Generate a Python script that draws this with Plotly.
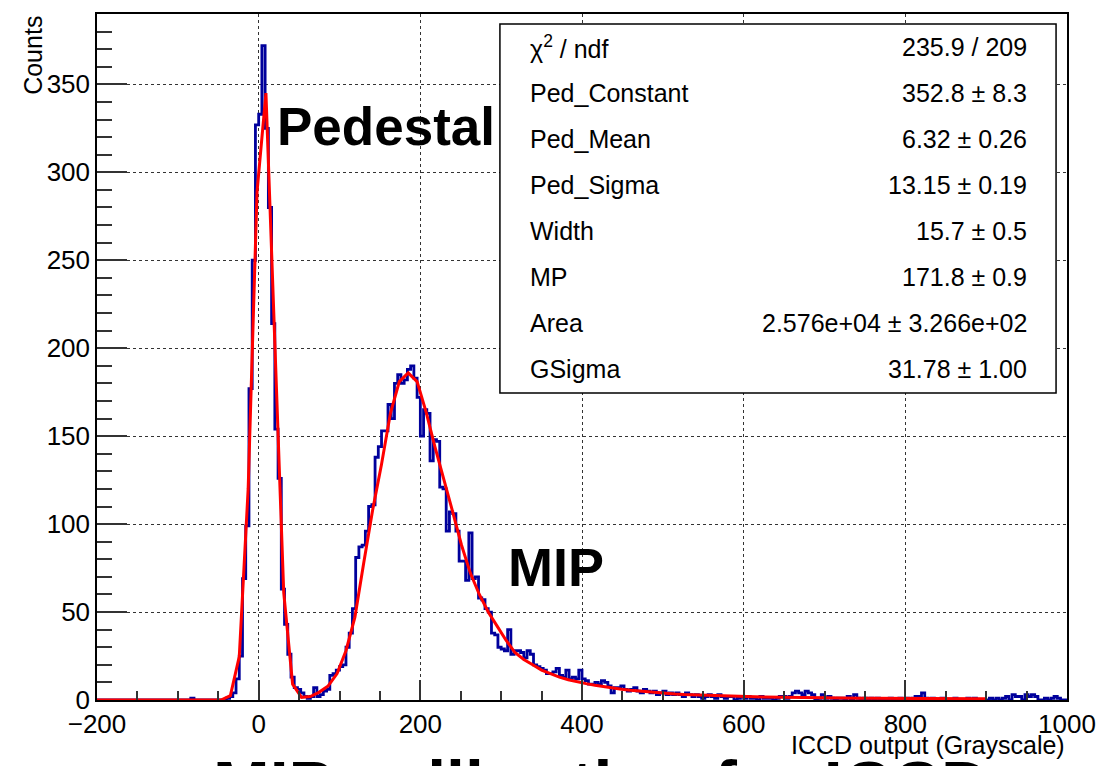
import numpy as np
import plotly.graph_objects as go

# ---------------- data ----------------
X_MIN, X_MAX, BIN_WIDTH = -200, 1000, 4
Y_MAX = 390

# histogram counts, bins of width 4 starting at -200
counts_neg = [0] * 29 + [1] + [0] * 10          # [-200, -40)
counts_ped = [1, 2, 4, 12, 25, 69, 99, 177, 250, 327, 333, 372, 325, 280, 214, 154,
              126, 63, 43, 26, 13, 7, 6, 4, 2, 1, 2, 7, 2, 3]          # [-40, 80)
counts_mip = [5, 6, 14, 15, 17, 19, 20, 30, 38, 52, 81, 87, 88, 96, 110, 111,
              138, 144, 153, 153, 168, 160, 180, 185, 180, 182, 188, 190, 183, 172,
              150, 165, 163, 136, 148, 147, 121, 120, 96, 107, 106, 96, 79, 79, 68,
              95, 69, 70, 58, 57, 52, 50, 38, 37, 30]                    # [80, 300)
counts_tail1 = [29, 28, 40, 26, 28, 28, 27, 24, 28, 26, 20, 19, 18, 17, 15, 15,
                16, 18, 14, 13, 17, 12, 13, 12, 17, 12, 11, 9, 9, 10, 9, 11, 10, 8,
                4, 7, 7, 8, 6, 5, 6, 7, 5, 4, 6, 5, 4, 5, 3, 4]            # [300, 500)
counts_tail2 = [5, 3, 4, 3, 4, 3, 2, 4, 3, 2, 3, 2, 1, 2, 3, 2, 1, 3, 2, 1,
                2, 2, 0, 1, 2, 1, 2, 1, 1, 0, 2, 1, 1, 1, 0, 1, 2, 2, 1, 2,
                4, 5, 4, 3, 5, 4, 3, 0, 1, 3, 1, 2, 1, 0, 1, 1, 0, 2, 0, 3,
                1, 0, 1, 0, 1, 0, 1, 0, 0, 0, 1, 0, 0, 1, 0, 1, 0, 1, 2, 2,
                4, 1, 0, 1, 0, 0, 1, 0, 0, 0, 1, 0, 0, 0, 1, 0, 1, 0, 0, 0,
                0, 1, 0, 1, 0, 1, 2, 0, 3, 2, 2, 0, 3, 2, 3, 2, 0, 0, 1, 0,
                1, 2, 1, 0, 0, 0, 1, 1, 2, 0, 2, 1]                      # [500, 1000)
counts = counts_neg + counts_ped + counts_mip + counts_tail1 + counts_tail2

# fit curve, 101 points sampled evenly on [-200, 900]
FIT_X_MIN, FIT_X_MAX = -200, 900
fit_y = [0] * 14 + [0.1, 2.5, 24.7, 120, 289, 345, 205, 61, 9, 1.5,
         2, 4.5, 8, 15, 28, 47, 78, 108, 134, 163, 181, 186, 181, 164, 144, 126,
         107, 88, 72, 60, 50, 42, 34, 27, 23, 20, 17, 15, 13, 11.5, 10.3, 9.3,
         8.4, 7.5, 6.8, 6.1, 5.5, 5.0, 4.5, 4.1, 3.7, 3.4, 3.1, 2.9, 2.7, 2.5,
         2.35, 2.2, 2.05, 1.95, 1.85, 1.75, 1.65, 1.55, 1.5, 1.42, 1.35, 1.3,
         1.22, 1.17, 1.12, 1.07, 1.03, 0.99, 0.95, 0.92, 0.89, 0.86, 0.83, 0.8,
         0.78, 0.75, 0.73, 0.71, 0.69, 0.67, 0.65]

stat_labels = ["χ<sup>2</sup> / ndf", "Ped_Constant", "Ped_Mean", "Ped_Sigma",
               "Width", "MP", "Area", "GSigma"]
stat_values = ["235.9 / 209", "352.8 ± 8.3", "6.32 ± 0.26", "13.15 ± 0.19",
               "15.7 ± 0.5", "171.8 ± 0.9", "2.576e+04 ± 3.266e+02", "31.78 ± 1.00"]

# ---------------- figure ----------------
W, H = 1108, 766
ML, MR, MT, MB = 97, 36, 12, 66
PW, PH = W - ML - MR, H - MT - MB

def px(xp):
    return (xp - ML) / PW

def py(yp):
    return (H - MB - yp) / PH

edges = X_MIN + BIN_WIDTH * np.arange(len(counts) + 1)
step_y = counts + [counts[-1]]
fit_x = np.linspace(FIT_X_MIN, FIT_X_MAX, len(fit_y))

FONT = "Liberation Sans, Arial, Helvetica, sans-serif"

fig = go.Figure()
fig.add_trace(go.Scatter(x=edges, y=step_y, mode="lines", line_shape="hv",
                         line=dict(color="#00009c", width=2.8), showlegend=False))
fig.add_trace(go.Scatter(x=fit_x, y=fit_y, mode="lines",
                         line=dict(color="#ff0000", width=3), showlegend=False))

fig.update_layout(
    width=W, height=H, paper_bgcolor="white", plot_bgcolor="white",
    margin=dict(l=ML, r=MR, t=MT, b=MB),
    font=dict(family=FONT, color="black", size=26),
    showlegend=False,
)
fig.update_xaxes(range=[X_MIN, X_MAX], showline=True, mirror=True, linecolor="black",
                 linewidth=1.5, ticks="inside", ticklen=20, tickwidth=1.5,
                 tickcolor="#333", dtick=200, tick0=0,
                 showgrid=True, gridcolor="#333", griddash="dot", gridwidth=1,
                 zeroline=False, tickfont=dict(size=26),
                 minor=dict(ticks="inside", ticklen=9, dtick=50, tickcolor="#333",
                            tickwidth=1.5, showgrid=False))
fig.update_yaxes(range=[0, Y_MAX], showline=True, mirror=True, linecolor="black",
                 linewidth=1.5, ticks="inside", ticklen=30, tickwidth=1.5,
                 tickcolor="#333", dtick=50, tick0=0,
                 showgrid=True, gridcolor="#333", griddash="dot", gridwidth=1,
                 zeroline=False, tickfont=dict(size=26),
                 minor=dict(ticks="inside", ticklen=15, dtick=10, tickcolor="#333",
                            tickwidth=1.5, showgrid=False))

# stats box
fig.add_shape(type="rect", xref="paper", yref="paper",
              x0=px(502), x1=px(1061), y0=py(392), y1=py(22),
              fillcolor="white", line=dict(color="black", width=1.5), layer="above")
for i, (lab, val) in enumerate(zip(stat_labels, stat_values)):
    yc = 45 + 46.1 * i
    fig.add_annotation(x=px(530), y=py(yc), xref="paper", yref="paper", text=lab,
                       xanchor="left", yanchor="middle", showarrow=False,
                       font=dict(size=25))
    fig.add_annotation(x=px(1034), y=py(yc), xref="paper", yref="paper", text=val,
                       xanchor="right", yanchor="middle", showarrow=False,
                       font=dict(size=25))

# axis titles
fig.add_annotation(x=px(32), y=1.0, xref="paper", yref="paper", text="Counts",
                   textangle=-90, xanchor="center", yanchor="top", showarrow=False,
                   font=dict(size=25))
fig.add_annotation(x=1.0, y=py(745), xref="paper", yref="paper",
                   text="ICCD output (Grayscale)", xanchor="right", yanchor="middle",
                   showarrow=False, font=dict(size=25))

# labels
fig.add_annotation(x=px(276), y=py(125), xref="paper", yref="paper", text="<b>Pedestal</b>",
                   xanchor="left", yanchor="middle", showarrow=False, font=dict(size=53))
fig.add_annotation(x=px(508), y=py(567), xref="paper", yref="paper", text="<b>MIP</b>",
                   xanchor="left", yanchor="middle", showarrow=False, font=dict(size=54))

# cropped slide title at the bottom
fig.add_annotation(x=px(604), y=py(745), xref="paper", yref="paper",
                   text="<b>MIP calibration for ICCD</b>", xanchor="center", yanchor="top",
                   showarrow=False, font=dict(size=68))

fig.write_html("out.html")
